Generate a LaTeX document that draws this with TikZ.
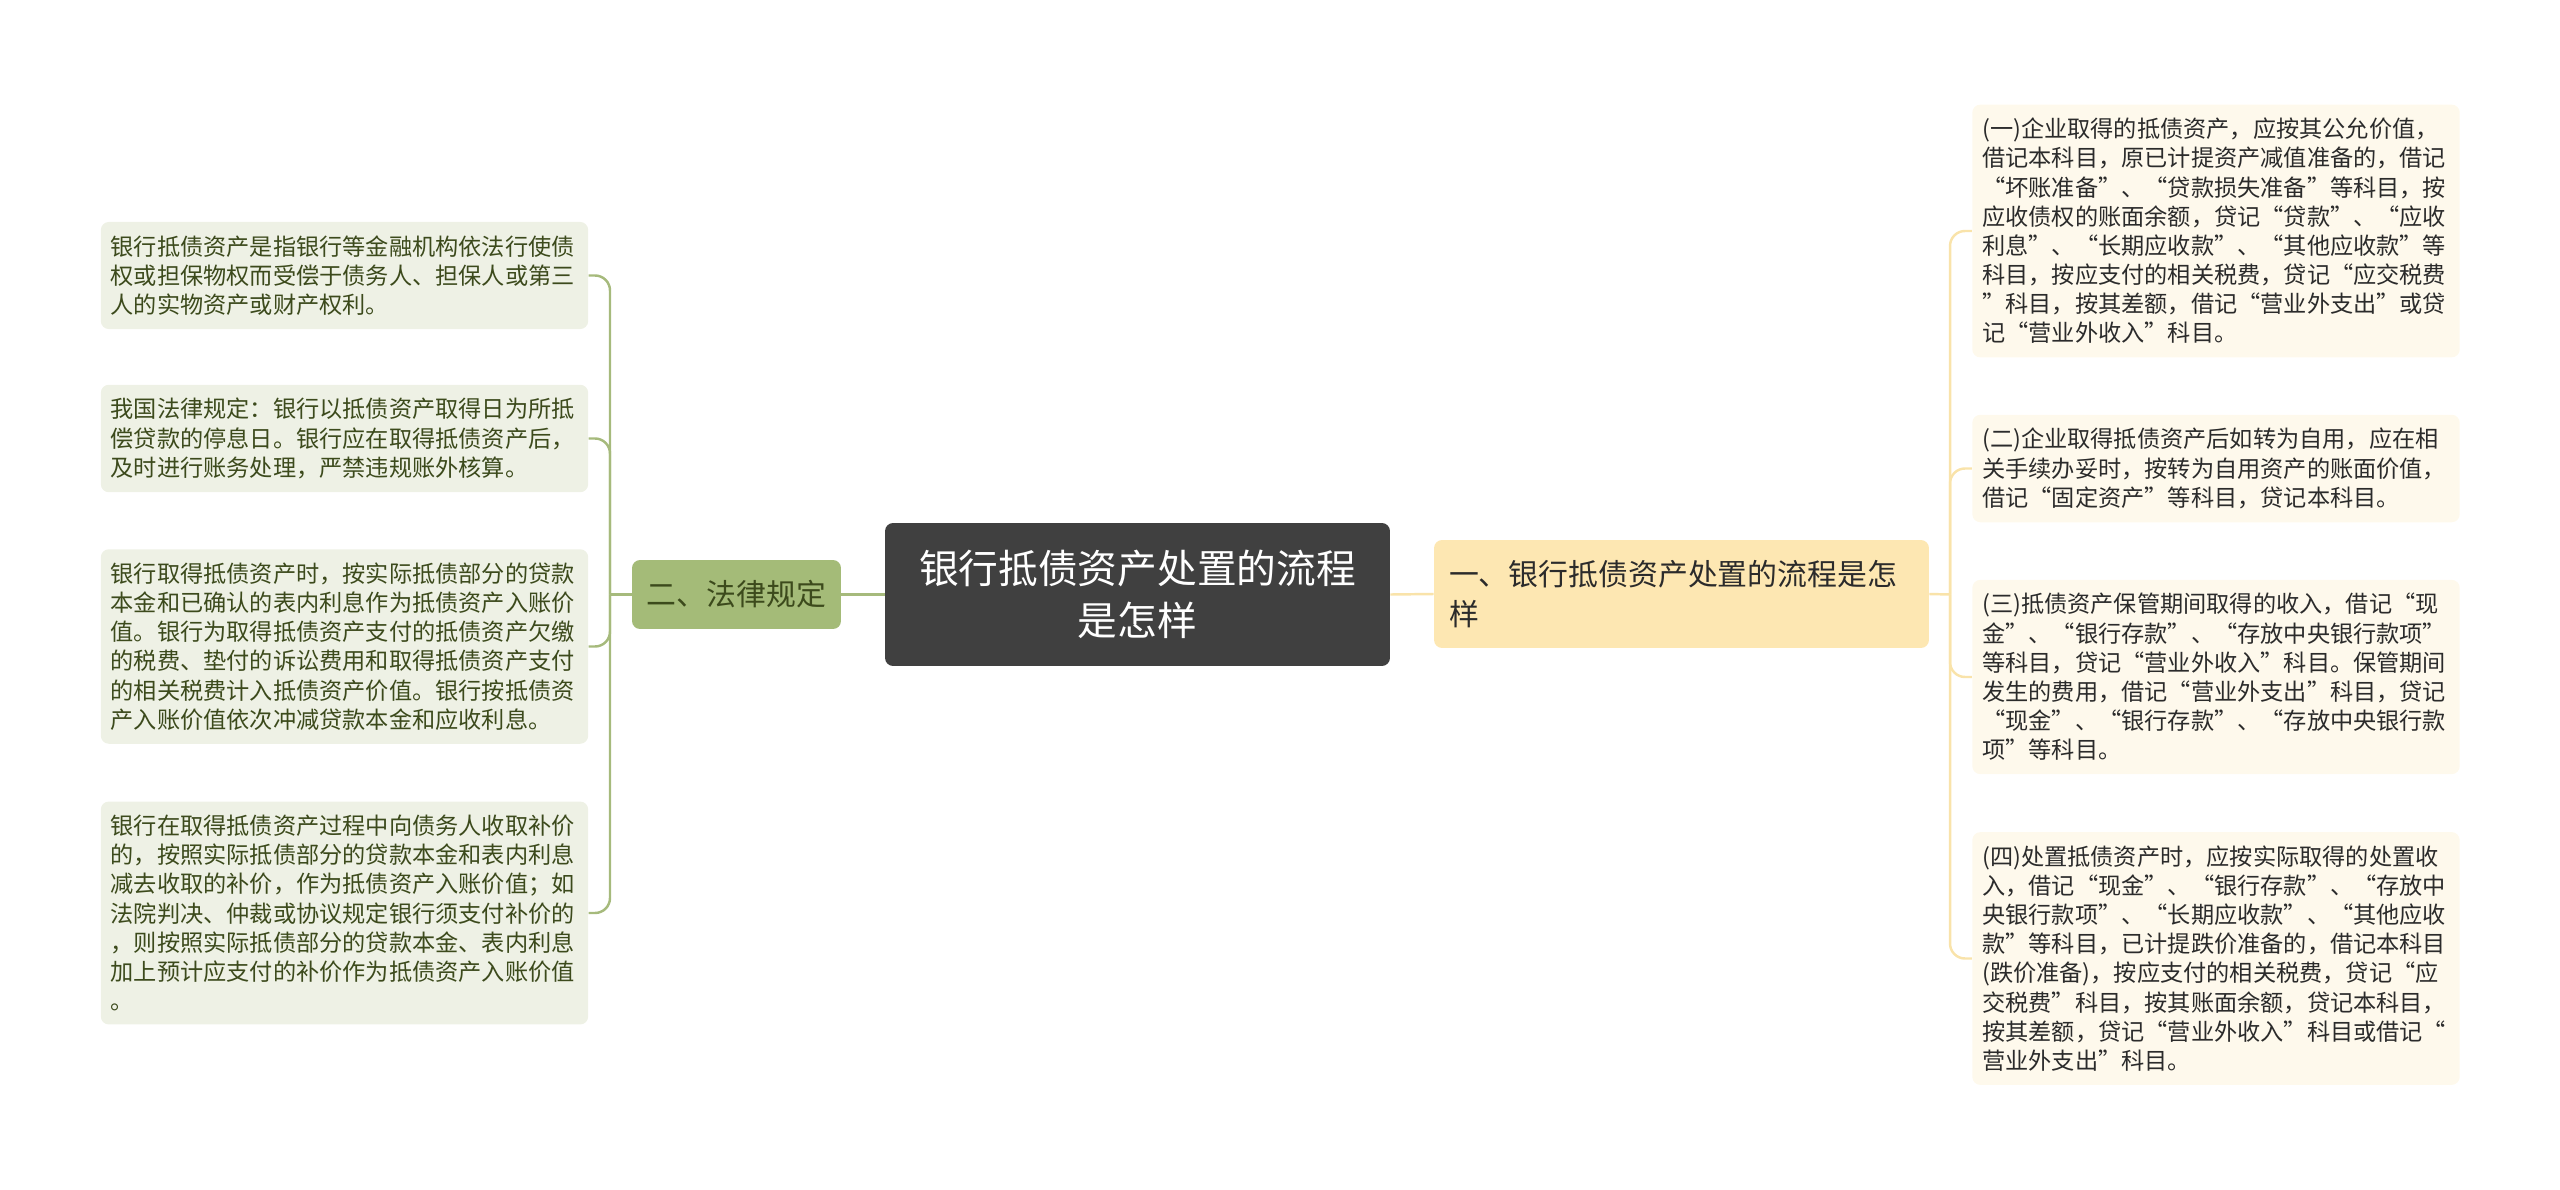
\documentclass[tikz,border=0pt]{standalone}
\usepackage{fontspec}
\setmainfont{Noto Sans CJK SC}
\definecolor{rootfill}{HTML}{404040}
\definecolor{greenfill}{HTML}{A4BB78}
\definecolor{greenline}{HTML}{A6BA7C}
\definecolor{greentext}{HTML}{3C4A1C}
\definecolor{leafgreen}{HTML}{EEF1E5}
\definecolor{yellowfill}{HTML}{FDE7B2}
\definecolor{yellowline}{HTML}{F9E3AA}
\definecolor{leafyellow}{HTML}{FEF9EC}
\definecolor{leaftext}{HTML}{2B2B2B}

\begin{document}
\begin{tikzpicture}[x=0.02cm, y=-0.02cm,
    rootbox/.style={fill=rootfill, rounded corners=0.16cm, text=white, align=center,
      minimum width=10.1cm, minimum height=2.86cm, text width=9cm,
      font=\fontsize{22.6pt}{29.6pt}\selectfont},
    lbranchbox/.style={fill=greenfill, rounded corners=0.16cm, text=greentext,
      minimum width=4.18cm, minimum height=1.38cm,
      font=\fontsize{17pt}{23pt}\selectfont},
    rbranchbox/.style={fill=yellowfill, rounded corners=0.16cm, text=leaftext, align=left,
      text width=9.3cm, inner xsep=0.3cm, minimum height=2.16cm,
      font=\fontsize{17pt}{23pt}\selectfont},
    leafbox/.style={rounded corners=0.16cm, align=left, text width=9.35cm,
      inner xsep=0.2cm, inner ysep=0.27cm,
      font=\fontsize{13.2pt}{16.6pt}\selectfont},
    lleaf/.style={leafbox, fill=leafgreen, text=greentext},
    rleaf/.style={leafbox, fill=leafyellow, text=leaftext},
    lline/.style={draw=greenline, line width=1.4pt, rounded corners=0.3cm},
    rline/.style={draw=yellowline, line width=1.4pt, rounded corners=0.3cm}]
  \def\lx{344.5}
  \def\rx{2216}
  \useasboundingbox (0,0) rectangle (2560,1190);

  \node[rootbox] (root) at (1137.5,594.5) {银行抵债资产处置的流程\\是怎样};
  \node[lbranchbox] (lbranch) at (736.5,594.5) {二、法律规定};
  \node[rbranchbox] (rbranch) at (1681.5,594) {一、银行抵债资产处置的流程是怎\\样};

  \node[lleaf] (l1) at (\lx,275.5) {银行抵债资产是指银行等金融机构依法行使债\\权或担保物权而受偿于债务人、担保人或第三\\人的实物资产或财产权利。};
  \node[lleaf] (l2) at (\lx,438.5) {我国法律规定：银行以抵债资产取得日为所抵\\偿贷款的停息日。银行应在取得抵债资产后，\\及时进行账务处理，严禁违规账外核算。};
  \node[lleaf] (l3) at (\lx,646.5) {银行取得抵债资产时，按实际抵债部分的贷款\\本金和已确认的表内利息作为抵债资产入账价\\值。银行为取得抵债资产支付的抵债资产欠缴\\的税费、垫付的诉讼费用和取得抵债资产支付\\的相关税费计入抵债资产价值。银行按抵债资\\产入账价值依次冲减贷款本金和应收利息。};
  \node[lleaf] (l4) at (\lx,913) {银行在取得抵债资产过程中向债务人收取补价\\的，按照实际抵债部分的贷款本金和表内利息\\减去收取的补价，作为抵债资产入账价值；如\\法院判决、仲裁或协议规定银行须支付补价的\\，则按照实际抵债部分的贷款本金、表内利息\\加上预计应支付的补价作为抵债资产入账价值\\。};

  \node[rleaf] (r1) at (\rx,231) {(一)企业取得的抵债资产，应按其公允价值，\\借记本科目，原已计提资产减值准备的，借记\\“坏账准备”、“贷款损失准备”等科目，按\\应收债权的账面余额，贷记“贷款”、“应收\\利息”、“长期应收款”、“其他应收款”等\\科目，按应支付的相关税费，贷记“应交税费\\”科目，按其差额，借记“营业外支出”或贷\\记“营业外收入”科目。};
  \node[rleaf] (r2) at (\rx,468.5) {(二)企业取得抵债资产后如转为自用，应在相\\关手续办妥时，按转为自用资产的账面价值，\\借记“固定资产”等科目，贷记本科目。};
  \node[rleaf] (r3) at (\rx,677) {(三)抵债资产保管期间取得的收入，借记“现\\金”、“银行存款”、“存放中央银行款项”\\等科目，贷记“营业外收入”科目。保管期间\\发生的费用，借记“营业外支出”科目，贷记\\“现金”、“银行存款”、“存放中央银行款\\项”等科目。};
  \node[rleaf] (r4) at (\rx,958.5) {(四)处置抵债资产时，应按实际取得的处置收\\入，借记“现金”、“银行存款”、“存放中\\央银行款项”、“长期应收款”、“其他应收\\款”等科目，已计提跌价准备的，借记本科目\\(跌价准备)，按应支付的相关税费，贷记“应\\交税费”科目，按其账面余额，贷记本科目，\\按其差额，贷记“营业外收入”科目或借记“\\营业外支出”科目。};

  \coordinate (ljoint) at (610,594.5);
  \coordinate (rjoint) at (1950,594.5);

  \draw[lline] (root.west) -- (lbranch.east);
  \draw[rline] (root.east) -- (rbranch.west);
  \draw[lline] (lbranch.west) -- (ljoint);
  \draw[rline] (rbranch.east) -- (rjoint);
  \foreach \leaf in {l1,l2,l3,l4}
    \draw[lline] (ljoint) |- (\leaf.east);
  \foreach \leaf in {r1,r2,r3,r4}
    \draw[rline] (rjoint) |- (\leaf.west);
\end{tikzpicture}
\end{document}
